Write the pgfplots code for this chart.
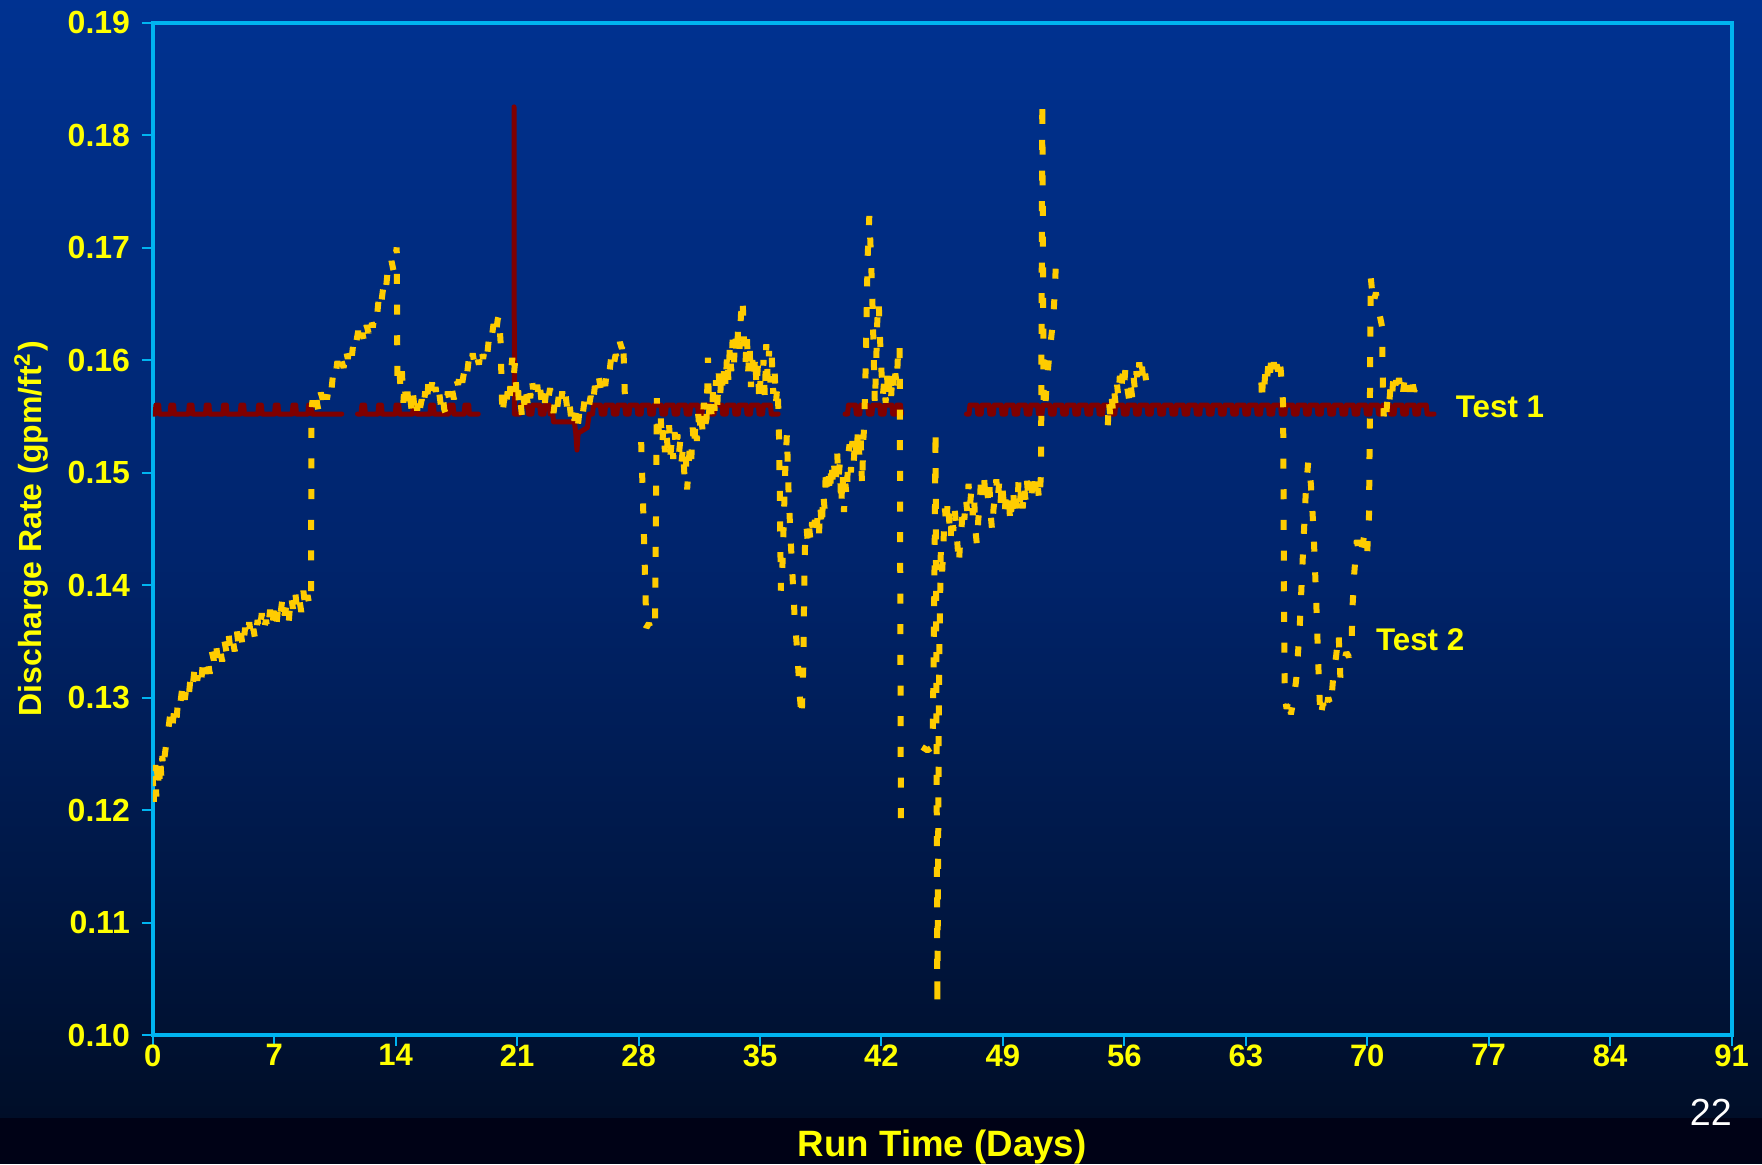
\documentclass[border=0pt]{standalone}
\usepackage{fontspec}
\setmainfont{Liberation Sans}
\usepackage{pgfplots}
\pgfplotsset{compat=1.18}
\definecolor{bgtop}{RGB}{0,50,145}
\definecolor{bgmid}{RGB}{0,36,108}
\definecolor{bgbot}{RGB}{0,14,40}
\definecolor{bandc}{RGB}{0,2,22}
\definecolor{framec}{RGB}{0,180,240}
\definecolor{txty}{RGB}{255,255,0}
\definecolor{dashy}{RGB}{255,204,0}
\definecolor{maroonc}{RGB}{128,0,0}
\pgfplotsset{
  testtwo/.style={dashy, line width=1.8pt, dash pattern=on 3pt off 6.2pt, line cap=butt, line join=bevel, mark=none},
  testone/.style={maroonc, line width=1.5pt, line join=round, line cap=round, mark=none},
}
\begin{document}
\begin{tikzpicture}
\shade[top color=bgtop, bottom color=bgbot, middle color=bgmid] (-45.84pt,-24.9pt) rectangle (482.76pt,310.5pt);
\fill[bandc] (-45.84pt,-38.7pt) rectangle (482.76pt,-24.9pt);
\begin{axis}[
  at={(0,0)}, anchor=south west,
  scale only axis, width=473.64pt, height=303.75pt,
  xmin=0, xmax=91, ymin=0.10, ymax=0.19,
  xtick={0,7,14,21,28,35,42,49,56,63,70,77,84,91},
  ytick={0.10,0.11,0.12,0.13,0.14,0.15,0.16,0.17,0.18,0.19},
  yticklabels={0.10,0.11,0.12,0.13,0.14,0.15,0.16,0.17,0.18,0.19},
  tick pos=left, tick align=outside, major tick length=3.3pt,
  axis line style={framec, line width=1.2pt},
  every tick/.style={framec, line width=0.6pt},
  tick label style={text=txty},
  x tick label style={font=\fontsize{9.3}{11}\selectfont\bfseries, yshift=4pt},
  y tick label style={font=\fontsize{9.6}{11}\selectfont\bfseries},
  /pgf/number format/assume math mode=true,
  xlabel={Run Time (Days)},
  ylabel={Discharge Rate (gpm/ft\textsuperscript{2})},
  xlabel style={font=\fontsize{11}{13}\selectfont\bfseries, text=txty, at={(axis description cs:0.5,-0.1110)}, anchor=center},
  ylabel style={font=\fontsize{9.6}{11}\selectfont\bfseries, text=txty, at={(axis description cs:-0.0769,0.5)}, anchor=center},
]
% ---------- Test 1 (red) ----------
\addplot[testone] table {
0.00 0.1552
0.14 0.1552
0.18 0.1560
0.34 0.1560
0.38 0.1552
1.00 0.1552
1.04 0.1560
1.20 0.1560
1.24 0.1552
2.06 0.1552
2.10 0.1560
2.26 0.1560
2.30 0.1552
3.04 0.1552
3.08 0.1560
3.24 0.1560
3.28 0.1552
4.04 0.1552
4.08 0.1560
4.24 0.1560
4.28 0.1552
5.04 0.1552
5.08 0.1560
5.24 0.1560
5.28 0.1552
6.06 0.1552
6.10 0.1560
6.26 0.1560
6.30 0.1552
7.02 0.1552
7.06 0.1560
7.22 0.1560
7.26 0.1552
8.04 0.1552
8.08 0.1560
8.24 0.1560
8.28 0.1552
8.94 0.1552
8.98 0.1560
9.14 0.1560
9.18 0.1552
10.89 0.1552
};
\addplot[testone] table {
11.80 0.1552
12.01 0.1552
12.05 0.1560
12.21 0.1560
12.25 0.1552
12.98 0.1552
13.02 0.1560
13.18 0.1560
13.22 0.1552
13.98 0.1552
14.02 0.1560
14.18 0.1560
14.22 0.1552
14.98 0.1552
15.02 0.1560
15.18 0.1560
15.22 0.1552
15.98 0.1552
16.02 0.1560
16.18 0.1560
16.22 0.1552
17.05 0.1552
17.09 0.1560
17.31 0.1560
17.35 0.1552
17.95 0.1552
17.99 0.1560
18.21 0.1560
18.25 0.1552
18.76 0.1552
};
\addplot[testone] table {
20.82 0.1825
20.84 0.1552
21.15 0.1552
21.20 0.1560
21.60 0.1560
21.65 0.1552
21.85 0.1552
21.90 0.1560
22.30 0.1560
22.35 0.1552
22.55 0.1552
22.60 0.1560
22.85 0.1560
22.90 0.1552
23.05 0.1552
23.10 0.1545
24.30 0.1545
24.38 0.1535
24.45 0.1520
24.52 0.1535
25.05 0.1540
25.15 0.1552
25.35 0.1552
25.40 0.1560
25.80 0.1560
25.85 0.1552
26.05 0.1552
26.10 0.1560
26.50 0.1560
26.55 0.1552
26.75 0.1552
26.80 0.1560
27.20 0.1560
27.25 0.1552
27.45 0.1552
27.50 0.1560
27.90 0.1560
27.95 0.1552
28.15 0.1552
28.20 0.1560
28.60 0.1560
28.65 0.1552
28.85 0.1552
28.90 0.1560
29.30 0.1560
29.35 0.1552
29.55 0.1552
29.60 0.1560
30.00 0.1560
30.05 0.1552
30.25 0.1552
30.30 0.1560
30.70 0.1560
30.75 0.1552
30.95 0.1552
31.00 0.1560
31.40 0.1560
31.45 0.1552
31.65 0.1552
31.70 0.1560
32.10 0.1560
32.15 0.1552
32.35 0.1552
32.40 0.1560
32.80 0.1560
32.85 0.1552
33.05 0.1552
33.10 0.1560
33.50 0.1560
33.55 0.1552
33.75 0.1552
33.80 0.1560
34.20 0.1560
34.25 0.1552
34.45 0.1552
34.50 0.1560
34.90 0.1560
34.95 0.1552
35.15 0.1552
35.20 0.1560
35.60 0.1560
35.65 0.1552
36.05 0.1552
};
\addplot[testone] table {
39.90 0.1552
40.05 0.1552
40.10 0.1560
40.50 0.1560
40.55 0.1552
40.75 0.1552
40.80 0.1560
41.20 0.1560
41.25 0.1552
41.45 0.1552
41.50 0.1560
41.90 0.1560
41.95 0.1552
42.15 0.1552
42.20 0.1560
42.60 0.1560
42.65 0.1552
42.85 0.1552
42.90 0.1560
43.10 0.1560
43.15 0.1552
};
\addplot[testone] table {
46.90 0.1552
47.05 0.1552
47.10 0.1560
47.50 0.1560
47.55 0.1552
47.75 0.1552
47.80 0.1560
48.20 0.1560
48.25 0.1552
48.45 0.1552
48.50 0.1560
48.90 0.1560
48.95 0.1552
49.15 0.1552
49.20 0.1560
49.60 0.1560
49.65 0.1552
49.85 0.1552
49.90 0.1560
50.30 0.1560
50.35 0.1552
50.55 0.1552
50.60 0.1560
51.00 0.1560
51.05 0.1552
51.25 0.1552
51.30 0.1560
51.70 0.1560
51.75 0.1552
51.95 0.1552
52.00 0.1560
52.40 0.1560
52.45 0.1552
52.65 0.1552
52.70 0.1560
53.10 0.1560
53.15 0.1552
53.35 0.1552
53.40 0.1560
53.80 0.1560
53.85 0.1552
54.05 0.1552
54.10 0.1560
54.50 0.1560
54.55 0.1552
54.75 0.1552
54.80 0.1560
55.20 0.1560
55.25 0.1552
55.45 0.1552
55.50 0.1560
55.90 0.1560
55.95 0.1552
56.15 0.1552
56.20 0.1560
56.60 0.1560
56.65 0.1552
56.85 0.1552
56.90 0.1560
57.30 0.1560
57.35 0.1552
57.55 0.1552
57.60 0.1560
58.00 0.1560
58.05 0.1552
58.25 0.1552
58.30 0.1560
58.70 0.1560
58.75 0.1552
58.95 0.1552
59.00 0.1560
59.40 0.1560
59.45 0.1552
59.65 0.1552
59.70 0.1560
60.10 0.1560
60.15 0.1552
60.35 0.1552
60.40 0.1560
60.80 0.1560
60.85 0.1552
61.05 0.1552
61.10 0.1560
61.50 0.1560
61.55 0.1552
61.75 0.1552
61.80 0.1560
62.20 0.1560
62.25 0.1552
62.45 0.1552
62.50 0.1560
62.90 0.1560
62.95 0.1552
63.15 0.1552
63.20 0.1560
63.60 0.1560
63.65 0.1552
63.85 0.1552
63.90 0.1560
64.30 0.1560
64.35 0.1552
64.55 0.1552
64.60 0.1560
65.00 0.1560
65.05 0.1552
65.25 0.1552
65.30 0.1560
65.70 0.1560
65.75 0.1552
65.95 0.1552
66.00 0.1560
66.40 0.1560
66.45 0.1552
66.65 0.1552
66.70 0.1560
67.10 0.1560
67.15 0.1552
67.35 0.1552
67.40 0.1560
67.80 0.1560
67.85 0.1552
68.05 0.1552
68.10 0.1560
68.50 0.1560
68.55 0.1552
68.75 0.1552
68.80 0.1560
69.20 0.1560
69.25 0.1552
69.45 0.1552
69.50 0.1560
69.90 0.1560
69.95 0.1552
70.15 0.1552
70.20 0.1560
70.60 0.1560
70.65 0.1552
70.85 0.1552
70.90 0.1560
71.30 0.1560
71.35 0.1552
71.55 0.1552
71.60 0.1560
72.00 0.1560
72.05 0.1552
72.25 0.1552
72.30 0.1560
72.70 0.1560
72.75 0.1552
72.95 0.1552
73.00 0.1560
73.40 0.1560
73.45 0.1552
73.85 0.1552
};
% ---------- Test 2 (yellow) ----------
\addplot[testtwo] table {
0.00 0.1230
0.05 0.1205
0.10 0.1225
0.15 0.1240
0.20 0.1212
0.25 0.1235
0.30 0.1218
0.35 0.1245
0.40 0.1225
0.45 0.1240
0.50 0.1228
0.55 0.1248
0.60 0.1236
0.70 0.1250
0.80 0.1262
0.90 0.1272
1.00 0.1285
1.12 0.1273
1.24 0.1290
1.36 0.1279
1.48 0.1302
1.60 0.1296
1.72 0.1312
1.84 0.1298
1.96 0.1311
2.08 0.1302
2.20 0.1322
2.32 0.1313
2.44 0.1330
2.56 0.1315
2.68 0.1326
2.80 0.1316
2.92 0.1336
3.04 0.1321
3.16 0.1335
3.28 0.1321
3.40 0.1341
3.52 0.1333
3.64 0.1348
3.76 0.1332
3.88 0.1343
4.00 0.1332
4.12 0.1351
4.24 0.1341
4.36 0.1357
4.48 0.1342
4.60 0.1352
4.72 0.1341
4.84 0.1360
4.96 0.1344
5.08 0.1357
5.20 0.1343
5.32 0.1362
5.44 0.1353
5.56 0.1367
5.68 0.1351
5.80 0.1361
5.92 0.1350
6.04 0.1369
6.16 0.1358
6.28 0.1375
6.40 0.1359
6.52 0.1369
6.64 0.1359
6.76 0.1378
6.88 0.1363
7.00 0.1377
7.12 0.1363
7.24 0.1383
7.36 0.1374
7.48 0.1389
7.60 0.1373
7.72 0.1383
7.84 0.1368
7.96 0.1391
8.08 0.1379
8.20 0.1395
8.32 0.1378
8.44 0.1388
8.56 0.1376
8.68 0.1395
8.80 0.1378
8.92 0.1391
9.04 0.1381
9.12 0.1390
9.15 0.1555
9.20 0.1564
9.32 0.1553
9.44 0.1564
9.56 0.1554
9.68 0.1571
9.80 0.1565
9.92 0.1577
10.04 0.1565
10.16 0.1577
10.28 0.1571
10.40 0.1589
10.52 0.1584
10.64 0.1599
10.76 0.1589
10.88 0.1599
11.00 0.1593
11.12 0.1610
11.24 0.1601
11.36 0.1614
11.48 0.1604
11.60 0.1621
11.72 0.1615
11.84 0.1626
11.96 0.1614
12.08 0.1624
12.20 0.1615
12.32 0.1631
12.44 0.1624
12.56 0.1638
12.68 0.1629
12.80 0.1642
12.92 0.1638
13.04 0.1658
13.16 0.1650
13.28 0.1664
13.40 0.1657
13.52 0.1676
13.64 0.1673
13.76 0.1688
13.88 0.1679
13.98 0.1692
14.06 0.1700
14.10 0.1585
14.20 0.1595
14.28 0.1575
14.36 0.1590
14.44 0.1562
14.52 0.1580
14.60 0.1558
14.68 0.1572
14.76 0.1556
14.84 0.1566
14.92 0.1555
15.00 0.1570
15.08 0.1558
15.16 0.1566
15.24 0.1555
15.32 0.1568
15.40 0.1557
15.50 0.1565
15.60 0.1556
15.70 0.1572
15.80 0.1560
15.90 0.1584
16.00 0.1572
16.10 0.1580
16.20 0.1566
16.30 0.1576
16.40 0.1564
16.50 0.1572
16.60 0.1560
16.70 0.1570
16.80 0.1556
16.90 0.1552
17.00 0.1572
17.12 0.1562
17.24 0.1574
17.36 0.1565
17.48 0.1583
17.60 0.1578
17.72 0.1591
17.84 0.1580
17.96 0.1591
18.08 0.1583
18.20 0.1599
18.32 0.1592
18.44 0.1606
18.56 0.1594
18.68 0.1603
18.80 0.1596
18.92 0.1612
19.04 0.1601
19.16 0.1613
19.28 0.1605
19.40 0.1623
19.52 0.1618
19.64 0.1632
19.76 0.1621
19.88 0.1636
19.95 0.1640
20.05 0.1615
20.10 0.1580
20.15 0.1550
20.25 0.1565
20.35 0.1555
20.45 0.1572
20.55 0.1560
20.65 0.1590
20.72 0.1602
20.80 0.1585
20.88 0.1598
20.96 0.1570
21.04 0.1580
21.12 0.1555
21.20 0.1562
21.28 0.1550
21.36 0.1568
21.44 0.1558
21.52 0.1572
21.60 0.1562
21.68 0.1576
21.76 0.1566
21.84 0.1584
21.92 0.1574
22.00 0.1580
22.08 0.1570
22.16 0.1578
22.24 0.1566
22.32 0.1576
22.40 0.1564
22.50 0.1572
22.60 0.1562
22.70 0.1576
22.80 0.1566
22.90 0.1575
23.00 0.1560
23.10 0.1553
23.20 0.1566
23.30 0.1556
23.40 0.1568
23.50 0.1558
23.60 0.1572
23.70 0.1560
23.80 0.1568
23.90 0.1555
24.00 0.1564
24.10 0.1550
24.20 0.1558
24.30 0.1546
24.40 0.1555
24.50 0.1541
24.60 0.1556
24.70 0.1562
24.80 0.1554
24.90 0.1566
25.00 0.1567
25.12 0.1557
25.24 0.1568
25.36 0.1559
25.48 0.1577
25.60 0.1571
25.72 0.1584
25.84 0.1572
25.96 0.1583
26.08 0.1577
26.20 0.1594
26.32 0.1589
26.44 0.1605
26.56 0.1595
26.68 0.1605
26.80 0.1600
26.92 0.1616
27.04 0.1610
27.10 0.1618
27.15 0.1600
27.20 0.1572
27.30 0.1556
};
\addplot[testtwo] table {
28.15 0.1527
28.30 0.1450
28.45 0.1362
28.60 0.1366
28.75 0.1358
28.95 0.1370
29.00 0.1450
29.05 0.1566
29.12 0.1545
29.20 0.1532
29.28 0.1548
29.36 0.1525
29.44 0.1540
29.52 0.1518
29.60 0.1535
29.68 0.1522
29.76 0.1542
29.84 0.1516
29.92 0.1530
30.00 0.1512
30.08 0.1536
30.16 0.1520
30.24 0.1534
30.32 0.1515
30.40 0.1528
30.48 0.1510
30.56 0.1522
30.64 0.1498
30.72 0.1515
30.80 0.1485
30.88 0.1505
30.96 0.1525
31.04 0.1512
31.12 0.1540
31.20 0.1522
31.28 0.1545
31.36 0.1528
31.44 0.1552
31.52 0.1534
31.60 0.1558
31.68 0.1538
31.76 0.1562
31.84 0.1542
31.92 0.1548
32.00 0.1602
32.06 0.1552
32.14 0.1570
32.22 0.1548
32.30 0.1575
32.38 0.1555
32.46 0.1582
32.54 0.1560
32.62 0.1588
32.70 0.1566
32.78 0.1592
32.86 0.1570
32.94 0.1598
33.02 0.1576
33.10 0.1605
33.18 0.1582
33.26 0.1612
33.34 0.1590
33.42 0.1618
33.50 0.1598
33.58 0.1622
33.66 0.1604
33.74 0.1628
33.82 0.1610
33.90 0.1640
34.00 0.1655
34.08 0.1612
34.16 0.1596
34.24 0.1622
34.32 0.1590
34.40 0.1612
34.48 0.1576
34.56 0.1600
34.64 0.1582
34.72 0.1604
34.80 0.1575
34.88 0.1596
34.96 0.1562
35.04 0.1588
35.12 0.1572
35.20 0.1600
35.28 0.1566
35.36 0.1614
35.44 0.1584
35.52 0.1608
35.60 0.1580
35.68 0.1602
35.76 0.1570
35.84 0.1590
35.92 0.1562
36.00 0.1578
36.08 0.1548
36.15 0.1470
36.20 0.1395
36.30 0.1420
36.45 0.1500
36.55 0.1535
36.65 0.1480
36.80 0.1430
36.90 0.1400
37.00 0.1370
37.15 0.1340
37.30 0.1300
37.40 0.1282
37.50 0.1330
37.55 0.1400
37.60 0.1440
37.68 0.1452
37.76 0.1436
37.84 0.1450
37.92 0.1438
38.00 0.1456
38.08 0.1442
38.16 0.1458
38.24 0.1444
38.32 0.1462
38.40 0.1446
38.48 0.1470
38.56 0.1450
38.64 0.1482
38.72 0.1468
38.80 0.1505
38.88 0.1484
38.96 0.1498
39.04 0.1480
39.12 0.1510
39.20 0.1490
39.28 0.1506
39.36 0.1488
39.44 0.1520
39.52 0.1494
39.60 0.1508
39.68 0.1470
39.76 0.1500
39.84 0.1465
39.92 0.1490
40.00 0.1478
40.08 0.1515
40.16 0.1525
40.24 0.1500
40.32 0.1528
40.40 0.1508
40.48 0.1532
40.56 0.1512
40.64 0.1538
40.72 0.1516
40.80 0.1532
40.88 0.1488
40.96 0.1530
41.00 0.1540
41.10 0.1600
41.20 0.1690
41.30 0.1728
41.40 0.1690
41.50 0.1640
41.56 0.1600
41.62 0.1560
41.70 0.1600
41.76 0.1635
41.84 0.1652
41.92 0.1618
42.00 0.1590
42.08 0.1568
42.16 0.1582
42.24 0.1562
42.32 0.1586
42.40 0.1566
42.48 0.1584
42.56 0.1568
42.64 0.1590
42.72 0.1572
42.80 0.1588
42.88 0.1578
42.96 0.1608
43.05 0.1615
43.12 0.1180
};
\addplot[testtwo] table {
44.35 0.1256
44.65 0.1253
44.95 0.1256
45.05 0.1400
45.12 0.1538
45.22 0.1026
45.32 0.1320
45.42 0.1430
45.50 0.1412
45.58 0.1440
45.66 0.1468
45.74 0.1452
45.82 0.1476
45.90 0.1458
45.98 0.1440
46.06 0.1462
46.14 0.1448
46.22 0.1468
46.30 0.1452
46.38 0.1436
46.46 0.1418
46.54 0.1440
46.62 0.1452
46.70 0.1470
46.78 0.1458
46.86 0.1478
46.94 0.1466
47.02 0.1490
47.10 0.1470
47.18 0.1484
47.26 0.1462
47.34 0.1478
47.42 0.1448
47.50 0.1436
47.58 0.1458
47.66 0.1470
47.74 0.1496
47.82 0.1480
47.90 0.1498
47.98 0.1482
48.06 0.1492
48.14 0.1476
48.22 0.1490
48.30 0.1462
48.38 0.1448
48.46 0.1468
48.54 0.1478
48.62 0.1494
48.70 0.1476
48.78 0.1490
48.86 0.1472
48.94 0.1492
49.02 0.1478
49.10 0.1462
49.18 0.1484
49.26 0.1470
49.34 0.1482
49.42 0.1454
49.50 0.1470
49.58 0.1486
49.66 0.1468
49.74 0.1480
49.82 0.1466
49.90 0.1492
49.98 0.1474
50.06 0.1486
50.14 0.1468
50.22 0.1488
50.30 0.1476
50.38 0.1494
50.46 0.1478
50.54 0.1492
50.62 0.1474
50.70 0.1490
50.78 0.1480
50.86 0.1492
50.94 0.1476
51.02 0.1486
51.10 0.1474
51.20 0.1500
51.27 0.1830
51.35 0.1555
51.45 0.1560
51.52 0.1578
51.67 0.1604
51.90 0.1636
52.00 0.1664
52.06 0.1689
};
\addplot[testtwo] table {
55.05 0.1542
55.10 0.1565
55.18 0.1552
55.26 0.1568
55.34 0.1556
55.42 0.1572
55.50 0.1560
55.58 0.1578
55.66 0.1566
55.74 0.1586
55.82 0.1572
55.90 0.1588
55.98 0.1576
56.06 0.1592
56.14 0.1578
56.22 0.1570
56.30 0.1562
56.38 0.1576
56.46 0.1566
56.54 0.1584
56.62 0.1572
56.70 0.1590
56.78 0.1580
56.86 0.1598
56.94 0.1584
57.02 0.1594
57.10 0.1580
57.18 0.1590
57.25 0.1582
};
\addplot[testtwo] table {
63.90 0.1580
63.94 0.1562
63.98 0.1585
64.06 0.1575
64.14 0.1592
64.22 0.1582
64.30 0.1596
64.38 0.1584
64.46 0.1600
64.54 0.1588
64.62 0.1598
64.70 0.1586
64.78 0.1596
64.86 0.1590
64.94 0.1602
65.02 0.1590
65.10 0.1575
65.15 0.1560
65.18 0.1470
65.20 0.1380
65.25 0.1300
65.35 0.1290
65.50 0.1300
65.60 0.1285
65.75 0.1298
65.90 0.1315
66.10 0.1360
66.30 0.1430
66.45 0.1480
66.60 0.1510
66.75 0.1490
66.90 0.1450
67.05 0.1390
67.20 0.1320
67.30 0.1282
67.45 0.1295
67.60 0.1285
67.75 0.1300
67.90 0.1292
68.05 0.1320
68.20 0.1336
68.35 0.1357
68.45 0.1318
68.60 0.1330
68.80 0.1340
68.95 0.1336
69.10 0.1350
69.15 0.1380
69.25 0.1410
69.40 0.1440
69.55 0.1425
69.70 0.1435
69.85 0.1445
70.00 0.1430
70.10 0.1460
70.15 0.1550
70.20 0.1674
70.35 0.1650
70.50 0.1660
70.65 0.1645
70.85 0.1630
70.90 0.1580
70.95 0.1550
71.03 0.1562
71.11 0.1554
71.19 0.1570
71.27 0.1562
71.35 0.1578
71.43 0.1568
71.51 0.1585
71.59 0.1574
71.67 0.1582
71.75 0.1570
71.83 0.1584
71.91 0.1574
71.99 0.1580
72.07 0.1572
72.15 0.1582
72.23 0.1574
72.31 0.1580
72.39 0.1572
72.47 0.1578
72.55 0.1570
72.63 0.1578
72.71 0.1572
72.79 0.1576
72.85 0.1572
};
\node[anchor=west, inner sep=0pt, text=txty, font=\fontsize{9.4}{11}\selectfont\bfseries] at (axis cs:75.07,0.1558) {Test 1};
\node[anchor=west, inner sep=0pt, text=txty, font=\fontsize{9.4}{11}\selectfont\bfseries] at (axis cs:70.47,0.1351) {Test 2};
\end{axis}
\node[text=white, inner sep=0pt, font=\fontsize{11.3}{13}\selectfont] at (467.4pt,-23.25pt) {22};
\pgfresetboundingbox
\useasboundingbox (-45.84pt,-38.7pt) rectangle (482.76pt,310.5pt);
\end{tikzpicture}
\end{document}
